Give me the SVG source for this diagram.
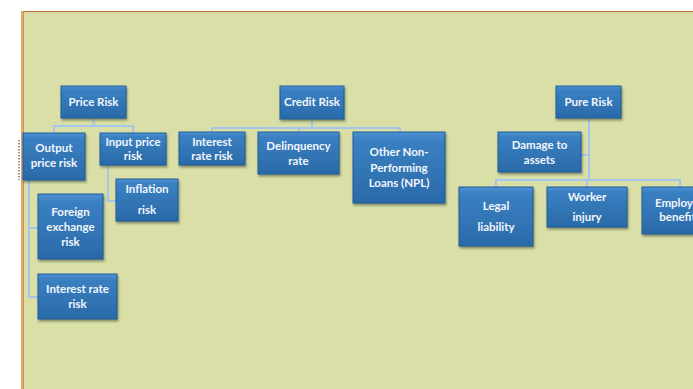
<svg xmlns="http://www.w3.org/2000/svg" width="693" height="389" viewBox="0 0 693 389">
<defs>
<linearGradient id="bg" x1="0" y1="0" x2="0" y2="1">
<stop offset="0" stop-color="#4d92d2"/>
<stop offset="0.12" stop-color="#3a80c2"/>
<stop offset="1" stop-color="#2a6aa8"/>
</linearGradient>
<filter id="sh" x="-10%" y="-10%" width="125%" height="130%">
<feDropShadow dx="1" dy="2" stdDeviation="1.2" flood-color="#3a4a30" flood-opacity="0.55"/>
</filter>
<style>
.box{fill:url(#bg);stroke:#1f5c99;stroke-width:1;filter:url(#sh)}
.t{font-family:Lato,"Liberation Sans",sans-serif;font-weight:bold;font-size:11.5px;fill:#f2f6fb;text-anchor:middle}
.c{fill:none;stroke:#a4c6ea;stroke-width:2}
</style>
</defs>
<rect x="0" y="0" width="693" height="389" fill="#ffffff"/>
<rect x="22" y="11" width="671" height="378" fill="#d9dfa7"/>
<line x1="22" y1="11.5" x2="693" y2="11.5" stroke="#c06a3a" stroke-width="1.2"/>
<line x1="22" y1="11" x2="22" y2="389" stroke="#e3a86a" stroke-width="2"/>
<line x1="23.5" y1="11" x2="23.5" y2="389" stroke="#c9823f" stroke-width="0.8"/>
<line x1="19" y1="140" x2="19" y2="180" stroke="#333" stroke-width="1" stroke-dasharray="1.5,1.5"/>
<g id="connectors">
<path class="c" d="M93.5 118V126M54 133V126H133V133"/>
<path class="c" d="M29 180V297H38M29 228H38"/>
<path class="c" d="M108 165V201H116"/>
<path class="c" d="M312 119V128M212 132V128H400V132M299 128V132"/>
<path class="c" d="M589 118V180M581 155H589M496 187V180H680V187M587 180V187"/>
</g>
<g id="price-risk"><rect class="box" x="61" y="86" width="65" height="32"/><text class="t" x="93.5" y="106">Price Risk</text></g>
<g id="output-price-risk"><rect class="box" x="23" y="133" width="62" height="47"/><text class="t" x="54" y="152">Output</text><text class="t" x="54" y="167">price risk</text></g>
<g id="input-price-risk"><rect class="box" x="100" y="133" width="66" height="32"/><text class="t" x="133" y="146">Input price</text><text class="t" x="133" y="160">risk</text></g>
<g id="inflation-risk"><rect class="box" x="116" y="179" width="62" height="42"/><text class="t" x="147" y="193">Inflation</text><text class="t" x="147" y="214">risk</text></g>
<g id="foreign-exchange-risk"><rect class="box" x="38" y="194" width="65" height="65"/><text class="t" x="70.5" y="216">Foreign</text><text class="t" x="70.5" y="231">exchange</text><text class="t" x="70.5" y="246">risk</text></g>
<g id="interest-rate-risk-price"><rect class="box" x="38" y="274" width="79" height="45"/><text class="t" x="77.5" y="293">Interest rate</text><text class="t" x="77.5" y="308">risk</text></g>
<g id="credit-risk"><rect class="box" x="280" y="86" width="64" height="33"/><text class="t" x="312" y="106">Credit Risk</text></g>
<g id="interest-rate-risk-credit"><rect class="box" x="179" y="132" width="66" height="33"/><text class="t" x="212" y="146">Interest</text><text class="t" x="212" y="160">rate risk</text></g>
<g id="delinquency-rate"><rect class="box" x="258" y="132" width="81" height="42"/><text class="t" x="298.5" y="150">Delinquency</text><text class="t" x="298.5" y="165">rate</text></g>
<g id="other-npl"><rect class="box" x="353" y="132" width="92" height="71"/><text class="t" x="399" y="156">Other Non-</text><text class="t" x="399" y="172">Performing</text><text class="t" x="399" y="187">Loans (NPL)</text></g>
<g id="pure-risk"><rect class="box" x="556" y="86" width="65" height="32"/><text class="t" x="588.5" y="106">Pure Risk</text></g>
<g id="damage-to-assets"><rect class="box" x="498" y="132" width="83" height="40"/><text class="t" x="539.5" y="149">Damage to</text><text class="t" x="539.5" y="164">assets</text></g>
<g id="legal-liability"><rect class="box" x="459" y="187" width="74" height="59"/><text class="t" x="496" y="210">Legal</text><text class="t" x="496" y="231">liability</text></g>
<g id="worker-injury"><rect class="box" x="547" y="187" width="80" height="40"/><text class="t" x="587" y="201">Worker</text><text class="t" x="587" y="221">injury</text></g>
<g id="employee-benefits"><rect class="box" x="642" y="187" width="76" height="47"/><text class="t" x="680" y="207">Employee</text><text class="t" x="680" y="221">benefits</text></g>
</svg>
